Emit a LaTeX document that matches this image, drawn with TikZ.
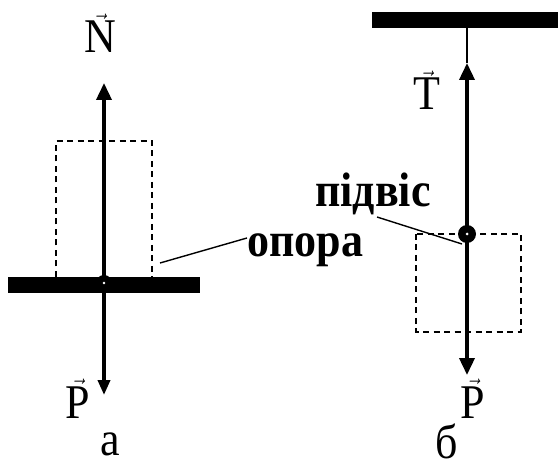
\documentclass[tikz,border=0pt]{standalone}
\usepackage{fontspec}
\usepackage{amsmath}
\usepackage{graphicx}
\setmainfont{Liberation Serif}
\usetikzlibrary{arrows.meta}
\newcommand{\vlab}[1]{\scalebox{1}[1.1]{$\vec{\text{#1}}$}}
\newcommand{\tlab}[1]{\scalebox{1}[1.1]{#1}}

\begin{document}
\begin{tikzpicture}[x=1pt, y=-1pt,
    force/.style={line width=3.6pt, -{Triangle[length=17pt, width=15pt]}},
    frame/.style={dashed, line width=1.3pt, dash pattern=on 6pt off 4.5pt},
    lbl/.style={font=\fontsize{44}{50}\selectfont, inner sep=0pt, anchor=base},
    word/.style={font=\fontsize{44}{50}\selectfont\bfseries, inner sep=0pt, anchor=base west},
    pin/.style={line width=1.4pt}]
    \useasboundingbox (0,0) rectangle (560,465);
    % a
    \fill (8,277) rectangle (200,293);
    \draw[frame] (56,277) |- (152,141) -- (152,277);
    \coordinate (ca) at (104,283);
    \coordinate (na) at (104,83);
    \coordinate (pa) at (104,395);
    \draw[force] (ca) -- (na);
    \draw[force, -{Triangle[length=15pt, width=12pt]}] (ca) -- (pa);
    \fill (ca) circle (8);
    \fill[white] (ca) circle (1.3);
    \node[lbl] (N) at (100,53) {\vlab{N}};
    \node[lbl] (Pa) at (78,418) {\vlab{P}};
    \node[lbl] (a) at (110,455) {\tlab{а}};
    \node[word] (opora) at (247,257) {\tlab{опора}};
    \coordinate (oa) at (160,263);
    \draw[pin] (oa) -- (opora.west |- 0,238);
    % b
    \fill (372,12) rectangle (558,28);
    \coordinate (hook) at (467,28);
    \coordinate (cb) at (467,234);
    \coordinate (tb) at (467,63);
    \coordinate (pb) at (467,375);
    \draw[frame] (416,234) rectangle (521,332);
    \draw[line width=1.4pt] (hook) -- (tb);
    \draw[force] (cb) -- (tb);
    \draw[force] (cb) -- (pb);
    \fill (cb) circle (9);
    \fill[white] (cb) circle (1.5);
    \node[lbl] (T) at (427,110) {\vlab{T}};
    \node[lbl] (Pb) at (473,418) {\vlab{P}};
    \node[lbl] (b) at (447,458) {\tlab{б}};
    \node[word] (pidvis) at (315,207) {\tlab{підвіс}};
    \coordinate (ob) at (462,244);
    \draw[pin] (377,217) -- (ob);
\end{tikzpicture}
\end{document}
